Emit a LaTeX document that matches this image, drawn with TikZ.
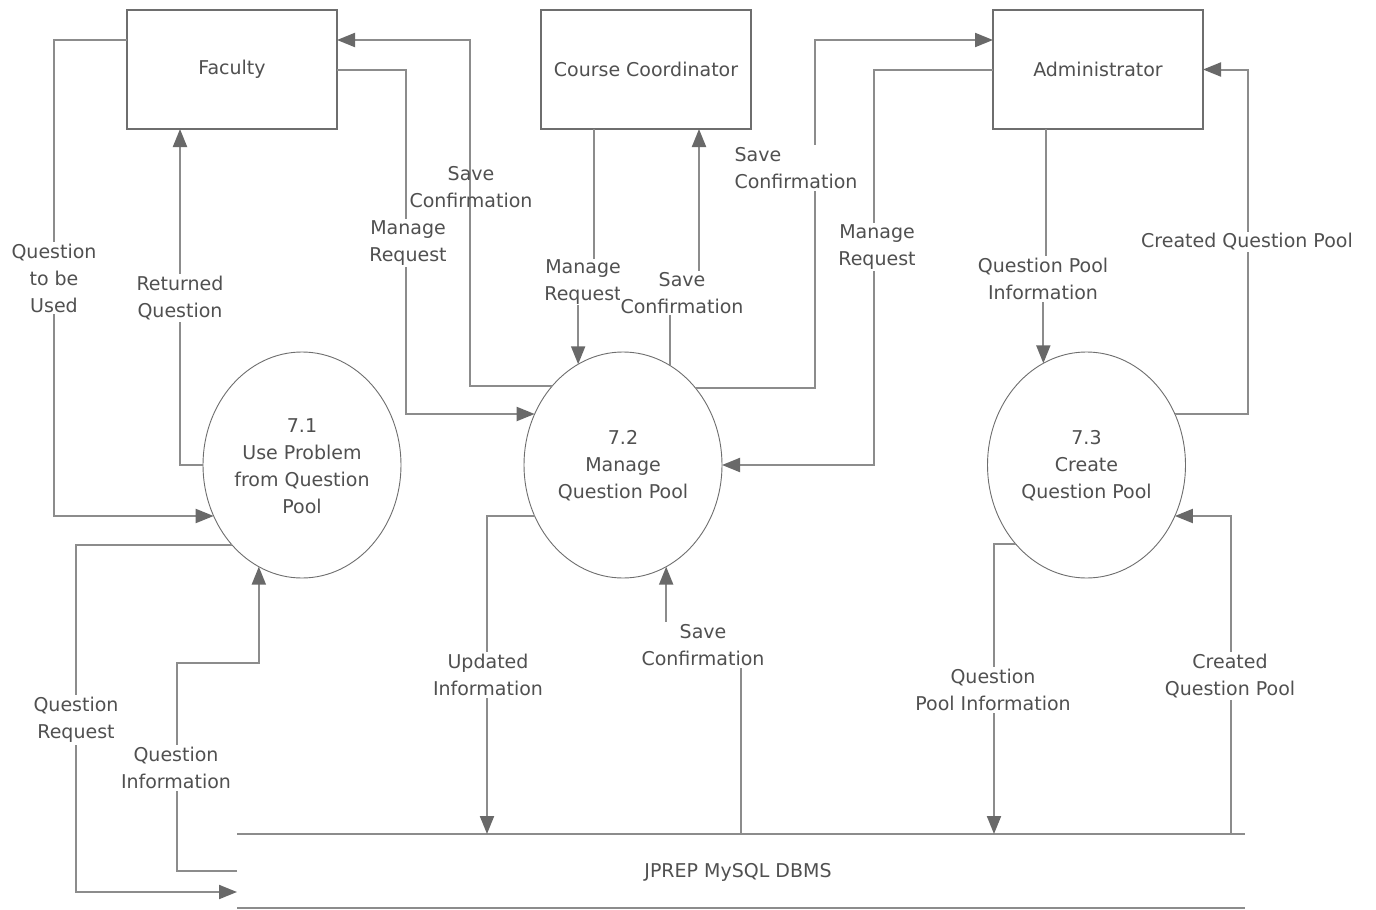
\documentclass[tikz,border=0pt]{standalone}
\usepackage{fontspec}
\setmainfont{DejaVu Sans}
\usetikzlibrary{arrows.meta,shapes.geometric}
\definecolor{txt}{HTML}{505050}
\definecolor{ln}{HTML}{8C8C8C}
\definecolor{hd}{HTML}{696969}
\definecolor{edge}{HTML}{6E6E6E}
\begin{document}
\begin{tikzpicture}[x=1pt,y=-1pt,
  every node/.style={font=\fontsize{19}{27}\selectfont, text=txt},
  entity/.style={draw=edge, line width=1.4pt, minimum width=210pt, minimum height=119pt, inner sep=0pt, outer sep=0pt},
  proc/.style={ellipse, draw=edge, line width=0.9pt, minimum width=198pt, minimum height=226pt, inner sep=0pt, outer sep=0pt},
  ptext/.style={align=center, inner sep=0pt},
  flow/.style={draw=ln, line width=2pt, -{Triangle[length=18pt,width=14pt,color=hd]}},
  lbl/.style={fill=white, inner sep=2pt, align=center},
  lbln/.style={inner sep=2pt, align=center},
]
\useasboundingbox (0,0) rectangle (1376,910);
\fill[white] (0,0) rectangle (1376,910);
% entities
\node[entity] (fac) at (232,69.5) {Faculty};
\node[entity] (cc) at (646,69.5) {Course Coordinator};
\node[entity] (adm) at (1098,69.5) {Administrator};
% processes
\node[proc] (e71) at (302,465) {};
\node[ptext] (t71) at (302,466) {7.1\\Use Problem\\from Question\\Pool};
\node[proc] (e72) at (623,465) {};
\node[ptext] (t72) at (623,466) {7.2\\Manage\\Question Pool};
\node[proc] (e73) at (1086.5,465) {};
\node[ptext] (t73) at (1086.5,466) {7.3\\Create\\Question Pool};
% data store
\node[minimum width=1008pt, minimum height=74pt, inner sep=0pt, outer sep=0pt] (db) at (741,871) {};
\node (dbt) at (738,872) {JPREP MySQL DBMS};
\draw[ln, line width=2pt] (db.north west) -- (db.north east) (db.south west) -- (db.south east);
% flows
\draw[flow] ([yshift=29.5pt]fac.west) -- ++(-73,0) |- (e71.210);
\draw[flow] (e71.west) -| ([xshift=-52pt]fac.south);
\draw[flow] (e72.132.5) -- ++(-82,0) |- ([yshift=29.5pt]fac.east);
\draw[flow] (fac.east) -- ++(69,0) |- (e72.150.6);
\draw[flow] ([xshift=-52pt]cc.south) -- ++(0,151) -| (e72.114.7);
\draw[flow] (e72.65.9) -- ++(0,-72) -| ([xshift=53pt]cc.south);
\draw[flow] (e72.47.5) -- ++(119.4,0) |- ([yshift=29.5pt]adm.west);
\draw[flow] (adm.west) -- ++(-119,0) |- (e72.east);
\draw[flow] ([xshift=-52pt]adm.south) -- ++(0,148) -| (e73.113.2);
\draw[flow] (e73.30) -- ++(73.2,0) |- (adm.east);
\draw[flow] (e71.229) -- ++(-156,0) |- ([yshift=-21pt]db.west);
\coordinate (qi) at (177,663);
\draw[flow] (db.west) -| (qi) -| (e71.247.7);
\draw[flow] (e72.210) -| ([xshift=-254pt]db.north);
\draw[flow] (db.north) -- ++(0,-189) -| (e72.293.5);
\draw[flow] (e73.228.1) -| ([xshift=253pt]db.north);
\draw[flow] ([xshift=490pt]db.north) |- (e73.330);
% labels
\node[lbl] (l1) at (54,278) {Question\\to be\\Used};
\node[lbl] (l2) at (180,298) {Returned\\Question};
\node[lbln] (l3) at (471,187) {Save\\Confirmation};
\node[lbl] (l4) at (408,243) {Manage\\Request};
\node[lbl, inner sep=1pt] (l5) at (583,282) {Manage\\Request};
\node[lbl, inner sep=1pt] (l6) at (682,293) {Save\\Confirmation};
\node[lbl, align=left] (l7) at (796,168) {Save\\Confirmation};
\node[lbl] (l8) at (877,247) {Manage\\Request};
\node[lbl] (l9) at (1043,279) {Question Pool\\Information};
\node[lbl] (l10) at (1247,242) {Created Question Pool};
\node[lbl] (l11) at (76,720) {Question\\Request};
\node[lbl] (l12) at (176,768) {Question\\Information};
\node[lbl] (l13) at (488,675) {Updated\\Information};
\node[lbl] (l14) at (703,645) {Save\\Confirmation};
\node[lbl] (l15) at (993,690) {Question\\Pool Information};
\node[lbl] (l16) at (1230,676) {Created\\Question Pool};
\end{tikzpicture}
\end{document}
